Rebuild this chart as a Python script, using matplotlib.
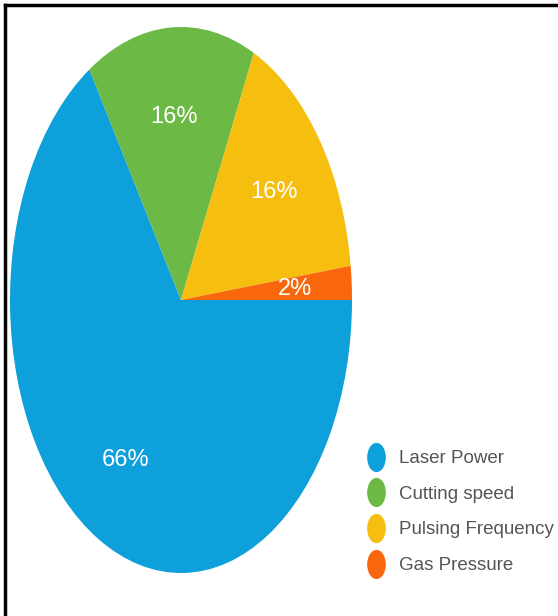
import matplotlib.pyplot as plt
from matplotlib.lines import Line2D
from matplotlib.path import Path
from matplotlib.transforms import Affine2D

labels = ["Laser Power", "Cutting speed", "Pulsing Frequency", "Gas Pressure"]
shares = [66, 16, 16, 2]
colors = ["#0EA0DA", "#6CB945", "#F6BE0E", "#F8670E"]

W, H = 558, 616
fig = plt.figure(figsize=(W / 100, H / 100), dpi=100)

# pie is stretched vertically in the reference, so keep aspect auto
ax = fig.add_axes([10 / W, (H - 573) / H, 342 / W, 546 / H])
wedges, texts, autotexts = ax.pie(
    shares, colors=colors, startangle=0, counterclock=False,
    autopct="%d%%", pctdistance=0.67,
    textprops=dict(color="white", fontsize=17, family=["Liberation Sans", "DejaVu Sans"]),
)
ax.set_aspect("auto")
ax.set_xlim(-1, 1)
ax.set_ylim(-1, 1)

# elliptical marker, like the stretched dots in the picture
dot = Path.unit_circle().transformed(Affine2D().scale(0.62, 1.0))
handles = [Line2D([], [], linestyle="none", marker=dot, markersize=20,
                  markerfacecolor=c, markeredgecolor=c) for c in colors]
fig.legend(handles, labels, loc="upper left", bbox_to_anchor=(368 / W, 1 - 450 / H),
           frameon=False, handlelength=0.9, handletextpad=0.75, labelspacing=0.99,
           borderaxespad=0, borderpad=0,
           prop=dict(family=["Liberation Sans", "DejaVu Sans"], size=13.5),
           labelcolor="#555555")

# frame lines (top and left only visible in reference)
fig.add_artist(Line2D([5 / W, 1], [1 - 5 / H, 1 - 5 / H], color="black", lw=2.5))
fig.add_artist(Line2D([5 / W, 5 / W], [0, 1 - 5 / H], color="black", lw=2.5))

fig.savefig("out.png", dpi=100)
